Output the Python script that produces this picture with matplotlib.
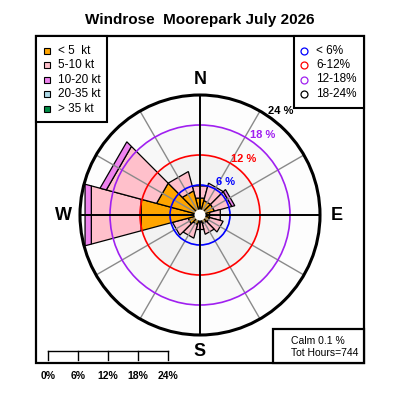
import numpy as np
import matplotlib
matplotlib.use("Agg")
import matplotlib.pyplot as plt
from matplotlib.patches import Polygon, Circle, Rectangle

plt.rcParams['font.family'] = ['Liberation Sans', 'DejaVu Sans']

# wind directions (deg, clockwise from N) and % frequency per speed class
directions = [0, 30, 60, 90, 120, 150, 180, 210, 240, 270, 300, 330]
lt5 = [3.5, 3.0, 3.0, 2.0, 2.0, 1.8, 1.5, 2.0, 2.5, 12.2, 9.0, 5.0]
s5_10 = [2.5, 3.6, 3.6, 2.2, 2.8, 2.2, 1.5, 2.8, 3.2, 10.3, 10.4, 4.0]
s10_20 = [0, 0, 0.6, 0, 0, 0, 0, 0, 0, 1.3, 1.3, 0]
s20_35 = [0] * 12
gt35 = [0] * 12
speed_labels = ["< 5  kt", "5-10 kt", "10-20 kt", "20-35 kt", "> 35 kt"]
speed_colors = ["#FFA500", "#FFC0CB", "#EE82EE", "#ADD8E6", "#008B45"]

rings = [6, 12, 18, 24]
ring_colors = ["#0000FF", "#FF0000", "#A020F0", "black"]
ring_labels = ["< 6%", "6-12%", "12-18%", "18-24%"]
calm = 0.1
tot_hours = 744
title = "Windrose  Moorepark July 2026"

width = 30  # sector width, degrees


def u(px, py):
    # pixel position -> plot units (1 unit = 1 %)
    return (px - 200) / 5.0, (215 - py) / 5.0


def pol(r, a):
    a = np.radians(a)
    return r * np.sin(a), r * np.cos(a)


fig = plt.figure(figsize=(4, 4), dpi=100)
ax = fig.add_axes([0, 0, 1, 1])
ax.set_xlim(-40, 40)
ax.set_ylim(-37, 43)
ax.set_aspect('equal')
ax.axis('off')

# light background discs
for r, c in zip([24, 18, 12, 6], ["#fdfdfd", "#f8f8f8", "#f2f2f2", "#eeeeee"]):
    ax.add_patch(Circle((0, 0), r, facecolor=c, edgecolor='none', zorder=1))

# stacked sectors
classes = [lt5, s5_10, s10_20, s20_35, gt35]
for i, d in enumerate(directions):
    r0 = 0
    for k, vals in enumerate(classes):
        v = vals[i]
        if v <= 0:
            continue
        r1 = r0 + v
        a1, a2 = d - width / 2, d + width / 2
        pts = [pol(r0, a1), pol(r1, a1), pol(r1, a2), pol(r0, a2)]
        ax.add_patch(Polygon(pts, closed=True, facecolor=speed_colors[k],
                             edgecolor='black', lw=0.9, zorder=2))
        r0 = r1

# spokes
for d in range(0, 360, 30):
    if d % 90 == 0:
        continue
    x, y = pol(24, d)
    ax.plot([0, x], [0, y], color='#8a8a8a', lw=1.0, zorder=3)

# rings
for r, c in zip(rings[:-1], ring_colors[:-1]):
    ax.add_patch(Circle((0, 0), r, facecolor='none', edgecolor=c, lw=1.2, zorder=4))
ax.add_patch(Circle((0, 0), 24, facecolor='none', edgecolor='black', lw=2.2, zorder=5))
ax.plot([0, 0], [-24, 24], color='black', lw=1.4, zorder=5)
ax.plot([-24, 24], [0, 0], color='black', lw=1.4, zorder=5)
ax.add_patch(Circle((0, 0), 1.1, facecolor='white', edgecolor='none', zorder=6))

# ring labels
for r, c in zip(rings, ring_colors):
    x, y = pol(r + 2.3, 38)
    ax.text(x, y, f"{r} %", color=c, fontsize=8, fontweight='bold',
            ha='center', va='center', zorder=7)

# compass letters
for lab, (px, py) in zip("NESW", [(200, 80), (337, 215), (200, 352), (63, 215)]):
    ax.text(*u(px, py), lab, fontsize=13, fontweight='bold', ha='center', va='center')

ax.text(*u(200, 20), title, fontsize=11, fontweight='bold', ha='center', va='center')

# frame
x0, y0 = u(36, 363)
x1, y1 = u(364, 36)
ax.add_patch(Rectangle((x0, y0), x1 - x0, y1 - y0, facecolor='none', edgecolor='black', lw=1.6, zorder=8))

# speed legend
lx0, ly0 = u(36, 122)
lx1, ly1 = u(107, 36)
ax.add_patch(Rectangle((lx0, ly0), lx1 - lx0, ly1 - ly0, facecolor='white', edgecolor='black', lw=1.5, zorder=8))
for j, (lab, c) in enumerate(zip(speed_labels, speed_colors)):
    py = 50.5 + j * 14.6
    ax.plot(*u(47, py), marker='s', ms=4.5, mfc=c, mec='black', mew=0.8, zorder=9)
    ax.text(*u(58, py), lab, fontsize=8.5, ha='left', va='center', zorder=9)

# ring legend
rx0, ry0 = u(294, 108)
ax.add_patch(Rectangle((rx0, ry0), x1 - rx0, ly1 - ry0, facecolor='white', edgecolor='black', lw=1.5, zorder=8))
for j, (lab, c) in enumerate(zip(ring_labels, ring_colors)):
    py = 50.5 + j * 14.5
    ax.plot(*u(304, py), marker='o', ms=5, mfc='none', mec=c, mew=0.9, zorder=9)
    ax.text(*u(316, py), lab, fontsize=8.5, ha='left', va='center', zorder=9)

# calm box
cx0, cy0 = u(273, 363)
cx1, cy1 = u(364, 329)
ax.add_patch(Rectangle((cx0, cy0), cx1 - cx0, cy1 - cy0, facecolor='white', edgecolor='black', lw=1.6, zorder=8))
ax.text(*u(291, 341), f"Calm {calm} %", fontsize=7.5, ha='left', va='center', zorder=9)
ax.text(*u(291, 353), f"Tot Hours={tot_hours}", fontsize=7.5, ha='left', va='center', zorder=9)

# scale bar
sx0, sy = u(48, 351)
_, sy2 = u(48, 360)
ax.plot([sx0, sx0 + 24], [sy, sy], color='black', lw=1.0, zorder=9)
for r in [0] + rings:
    ax.plot([sx0 + r, sx0 + r], [sy, sy2], color='black', lw=1.0, zorder=9)
    ax.text(sx0 + r, u(0, 376)[1], f"{r}%", fontsize=7.5, fontweight='bold',
            ha='center', va='center', zorder=9)

fig.savefig("out.png", dpi=100)
